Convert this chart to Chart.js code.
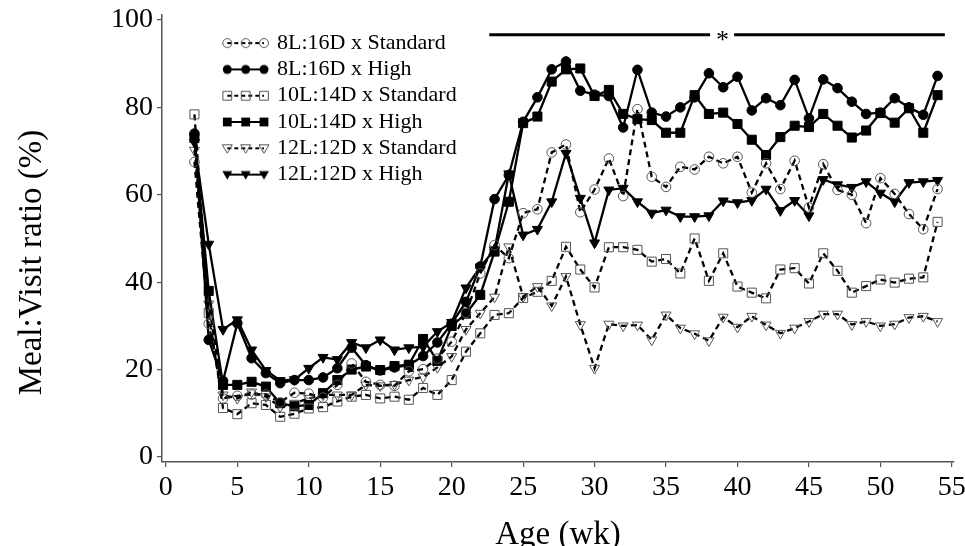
<!DOCTYPE html>
<html><head><meta charset="utf-8">
<script src="https://cdn.jsdelivr.net/npm/chart.js@4.4.1/dist/chart.umd.min.js"></script>
<style>html,body{margin:0;padding:0;background:#fff}canvas{display:block}</style>
</head><body>
<canvas id="c" width="965" height="546"></canvas>
<script>
// ---- data ----
const weeks = [2,3,4,5,6,7,8,9,10,11,12,13,14,15,16,17,18,19,20,21,22,23,24,25,26,27,28,29,30,31,32,33,34,35,36,37,38,39,40,41,42,43,44,45,46,47,48,49,50,51,52,53,54];
const xTicks = [0,5,10,15,20,25,30,35,40,45,50,55];
const yTicks = [0,20,40,60,80,100];
const seriesLabels = ['8L:16D x Standard','8L:16D x High','10L:14D x Standard','10L:14D x High','12L:12D x Standard','12L:12D x High'];
const xTitle = 'Age (wk)';
const yTitle = 'Meal:Visit ratio (%)';

const std8  = [67.5,30.5,13.4,14.0,14.3,14.3,12.5,14.7,14.5,13.6,16.5,21.4,17.2,16.5,16.3,19.6,20.1,22.5,26.4,33.0,42.0,48.5,45.5,55.8,56.7,69.7,71.5,56.0,61.2,68.3,59.7,79.6,64.1,61.8,66.4,65.8,68.7,67.2,68.7,60.5,67.2,61.3,67.8,57.1,67.0,61.1,60.0,53.5,63.8,60.2,55.6,52.1,61.3];
const high8 = [74.0,26.8,17.4,30.6,22.6,19.2,16.9,17.6,17.6,18.2,20.3,25.0,21.0,19.8,20.5,21.0,23.1,26.2,30.5,35.5,43.6,59.0,64.5,76.7,82.3,88.7,90.5,83.8,82.9,82.6,75.4,88.6,78.8,77.9,80.0,82.3,87.8,84.6,87.0,79.3,82.1,80.5,86.3,77.5,86.4,84.4,81.3,78.5,78.8,82.1,80.0,78.3,87.2];
const std10 = [78.4,33.0,11.2,9.8,12.3,11.9,9.2,9.9,11.1,11.4,12.7,13.8,14.2,13.4,13.8,13.1,15.8,14.2,17.6,24.1,28.3,32.5,32.9,36.4,37.8,40.3,48.1,42.9,38.8,48.0,48.0,47.4,44.7,45.3,42.0,50.0,40.3,46.6,39.0,37.6,36.3,42.9,43.2,39.7,46.6,42.6,37.6,39.1,40.6,39.9,40.8,41.1,53.8];
const high10 = [73.0,38.0,16.5,16.5,17.2,16.1,12.3,11.6,11.9,14.6,17.6,20.0,20.7,19.9,20.8,21.1,27.0,22.0,30.0,32.8,37.1,47.0,58.4,76.4,77.9,85.9,88.7,88.9,82.6,84.0,78.5,77.3,77.1,74.2,74.2,82.8,78.5,78.8,76.2,72.6,69.1,73.2,75.8,75.5,78.5,75.8,73.1,74.7,78.7,76.5,79.8,74.2,82.8];
const std12 = [70.2,35.0,14.2,13.4,14.9,13.8,11.5,12.3,13.4,14.2,14.2,14.2,16.5,16.3,16.6,17.6,18.3,20.5,23.0,29.2,32.9,36.6,48.1,36.7,39.0,34.6,41.3,30.3,20.3,30.4,30.0,30.2,26.8,32.5,29.5,28.2,26.6,32.0,29.7,32.2,30.2,28.3,29.5,31.0,32.7,32.7,30.3,31.0,30.0,30.4,31.9,32.2,31.0];
const high12 = [72.0,48.7,29.2,31.4,24.5,19.8,17.5,17.7,20.3,22.8,22.3,26.2,25.0,26.8,24.5,25.0,25.2,28.7,30.8,38.7,43.5,47.4,64.8,50.8,52.1,58.4,69.5,59.2,49.0,61.1,61.5,58.4,55.8,56.5,55.0,55.0,55.2,58.6,58.2,58.7,61.3,56.4,58.7,55.2,63.5,62.3,61.7,63.0,60.4,58.4,62.8,63.0,63.3];

// significance bar (weeks, percent)
const sigBarA = [22.63, 38.08];
const sigBarB = [39.76, 54.51];
const sigLevel = 96.6;
const sigStarWeek = 38.95;
const sigText = '*';

// ---- styles ----
const FONT = 'Liberation Serif';
const OPEN = '#555';
const markerDefs = [
  {shape:'circle', filled:false, dashed:true},
  {shape:'circle', filled:true,  dashed:false},
  {shape:'rect',   filled:false, dashed:true},
  {shape:'rect',   filled:true,  dashed:false},
  {shape:'tri',    filled:false, dashed:true},
  {shape:'tri',    filled:true,  dashed:false}
];
const seriesData = [std8, high8, std10, high10, std12, high12];

function drawMark(g, shape, x, y, filled){
  g.save();
  g.beginPath();
  if (shape === 'circle') { g.arc(x, y, 4.5, 0, Math.PI*2); }
  else if (shape === 'rect') { g.rect(x-4.4, y-4.4, 8.8, 8.8); }
  else { g.moveTo(x-5, y-3.5); g.lineTo(x+5, y-3.5); g.lineTo(x, y+5); g.closePath(); }
  if (filled) { g.fillStyle = '#000'; g.fill(); }
  else { g.strokeStyle = OPEN; g.lineWidth = 1; g.stroke(); }
  g.restore();
}
function makeIcon(def){
  const c = document.createElement('canvas');
  c.width = 58; c.height = 14;
  const g = c.getContext('2d');
  const xs = [13.3, 31.7, 50];
  g.strokeStyle = '#000'; g.lineWidth = 2.2;
  if (def.dashed) g.setLineDash([4,3]);
  g.beginPath(); g.moveTo(xs[0], 7); g.lineTo(xs[2], 7); g.stroke();
  g.setLineDash([]);
  xs.forEach(x => drawMark(g, def.shape, x, 7, def.filled));
  return c;
}
const legendIcons = markerDefs.map(makeIcon);

const datasets = seriesData.map((arr, i) => {
  const d = markerDefs[i];
  return {
    label: seriesLabels[i],
    data: weeks.map((w, k) => ({x: w, y: arr[k]})),
    borderColor: '#000',
    borderWidth: 2.3,
    borderDash: d.dashed ? [6,4] : [],
    pointStyle: d.shape === 'tri' ? 'triangle' : d.shape,
    rotation: d.shape === 'tri' ? 180 : 0,
    pointRadius: d.shape === 'rect' ? 6.4 : (d.shape === 'tri' ? 5.8 : 4.8),
    pointBackgroundColor: d.filled ? '#000' : 'rgba(0,0,0,0)',
    pointBorderColor: d.filled ? '#000' : OPEN,
    pointBorderWidth: 1,
    tension: 0,
    clip: false
  };
});
datasets.push({label:'_sigA', data: sigBarA.map(x => ({x, y: sigLevel})), borderColor:'#000', borderWidth:3, pointRadius:0, clip:false});
datasets.push({label:'_sigB', data: sigBarB.map(x => ({x, y: sigLevel})), borderColor:'#000', borderWidth:3, pointRadius:0, clip:false});

const starPlugin = {
  id: 'star',
  afterDatasetsDraw(chart){
    const {ctx, scales:{x, y}, chartArea} = chart;
    ctx.save();
    ctx.font = '26px "' + FONT + '"';
    ctx.fillStyle = '#000';
    ctx.textAlign = 'center';
    ctx.textBaseline = 'alphabetic';
    ctx.fillText(sigText, x.getPixelForValue(sigStarWeek), y.getPixelForValue(sigLevel) + 13);
    // y axis title
    ctx.font = '33px "' + FONT + '"';
    ctx.textBaseline = 'middle';
    ctx.translate(32, (chartArea.top + chartArea.bottom) / 2 + 24);
    ctx.rotate(-Math.PI / 2);
    ctx.fillText(yTitle, 0, 0);
    ctx.restore();
  }
};
const legendPlace = {
  id: 'legendPlace',
  afterLayout(chart){
    const lg = chart.legend;
    if (!lg) return;
    lg.left = 215.7; lg.top = 27.8;
    lg.right = lg.left + 260; lg.bottom = lg.top + 300;
  }
};

const axisColor = '#555';
new Chart(document.getElementById('c'), {
  type: 'line',
  data: { datasets },
  plugins: [starPlugin, legendPlace],
  options: {
    responsive: false,
    animation: false,
    devicePixelRatio: 1,
    layout: { padding: {top: 15, right: 11, left: 0, bottom: 0} },
    plugins: {
      tooltip: {enabled: false},
      legend: {
        position: 'chartArea',
        align: 'start',
        labels: {
          usePointStyle: true,
          pointStyleWidth: 46,
          padding: 4.3,
          color: '#000',
          font: {family: FONT, size: 22},
          generateLabels: (chart) => chart.data.datasets.slice(0, 6).map((ds, i) => ({
            text: ds.label, pointStyle: legendIcons[i], fillStyle: 'rgba(0,0,0,0)',
            strokeStyle: 'rgba(0,0,0,0)', lineWidth: 0, hidden: false, datasetIndex: i, fontColor: '#000'
          }))
        }
      }
    },
    scales: {
      x: {
        type: 'linear', min: -0.27, max: 55.15,
        afterBuildTicks: s => { s.ticks = xTicks.map(v => ({value: v})); },
        afterFit: s => { s.height = 84; s.paddingLeft = 0; s.paddingRight = 0; },
        grid: {display: true, drawOnChartArea: false, drawTicks: true, tickLength: 5, color: axisColor, lineWidth: 1.2},
        border: {display: true, color: axisColor, width: 1.5},
        ticks: {autoSkip: false, maxRotation: 0, color: '#000', padding: 4, font: {family: FONT, size: 28}},
        title: {display: true, text: xTitle, color: '#000', font: {family: FONT, size: 33}, padding: {top: 0, bottom: -9}}
      },
      y: {
        type: 'linear', min: -1.15, max: 101.14,
        afterBuildTicks: s => { s.ticks = yTicks.map(v => ({value: v})); },
        afterFit: s => { s.width = 162; s.paddingTop = 0; s.paddingBottom = 0; },
        grid: {display: true, drawOnChartArea: false, drawTicks: true, tickLength: 5, color: axisColor, lineWidth: 1.2},
        border: {display: true, color: axisColor, width: 1.5},
        ticks: {autoSkip: false, color: '#000', padding: 4, font: {family: FONT, size: 28}},
        title: {display: false, text: yTitle}
      }
    }
  }
});
</script>
</body></html>
